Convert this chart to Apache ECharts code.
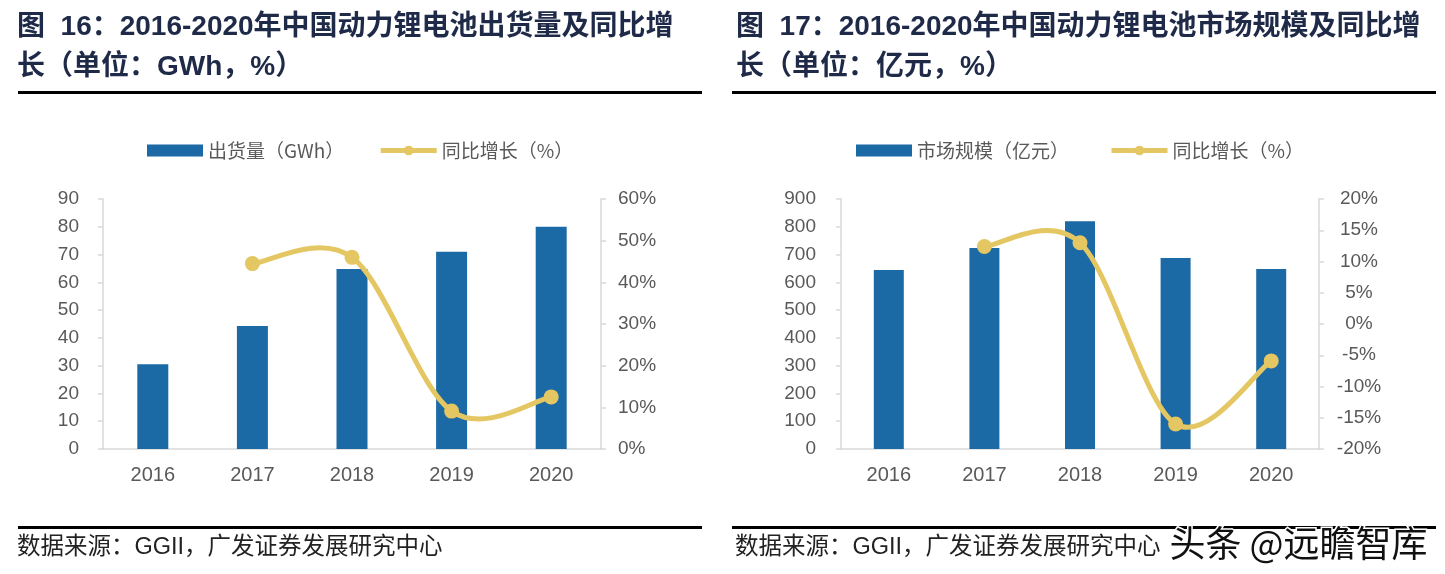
<!DOCTYPE html>
<html><head><meta charset="utf-8">
<script src="https://cdn.jsdelivr.net/npm/echarts@6/dist/echarts.min.js"></script>
<style>html,body{margin:0;padding:0;background:#fff}#c{width:1445px;height:574px}</style>
</head><body><div id="c"></div>
<script>
const years = ['2016','2017','2018','2019','2020'];
const shipment = [30.5, 44.3, 64.8, 71.0, 80.0];
const shipmentGrowth = [null, 44.5, 46.0, 9.1, 12.5];
const marketSize = [644, 724, 820, 688, 648];
const marketGrowth = [null, 12.4, 13.0, -16.0, -5.9];
const leftTicks1 = {min:0, max:90, interval:10};
const rightTicks1 = {min:0, max:60, interval:10};
const leftTicks2 = {min:0, max:900, interval:100};
const rightTicks2 = {min:-20, max:20, interval:5};
const title1 = ['图  16：2016-2020年中国动力锂电池出货量及同比增', '长（单位：GWh，%）'];
const title2 = ['图  17：2016-2020年中国动力锂电池市场规模及同比增', '长（单位：亿元，%）'];
const source = '数据来源：GGII，广发证券发展研究中心';
const names1 = ['出货量（GWh）', '同比增长（%）'];
const names2 = ['市场规模（亿元）', '同比增长（%） '];

const BAR = '#1B6AA5', LINE = '#E4C762', AX = '#D9D9D9', LBL = '#595959';
const FONT = '"Liberation Sans", Arial, "Noto Sans CJK SC", sans-serif';
const chart = echarts.init(document.getElementById('c'));

function yAx(grid, t, pos, fmt, margin, align) {
  const lab = {color:LBL, fontSize:19, fontFamily:FONT, margin:margin, formatter:fmt};
  if (align) lab.align = align;
  return {type:'value', gridIndex:grid, position:pos, min:t.min, max:t.max, interval:t.interval,
    axisLine:{show:true, lineStyle:{color:AX, width:1.5}},
    axisTick:{show:true, length:5, lineStyle:{color:AX, width:1.5}},
    splitLine:{show:false}, axisLabel:lab};
}
function xAx(grid) {
  return {type:'category', gridIndex:grid, data:years, boundaryGap:true,
    axisLine:{lineStyle:{color:AX, width:1.5}},
    axisTick:{length:5, lineStyle:{color:AX, width:1.5}},
    axisLabel:{color:LBL, fontSize:20, fontFamily:FONT, margin:16}};
}
function titleEls(lines, x) {
  return lines.map((t,i)=>({type:'text', left:x, top:13+i*40,
    style:{text:t, fill:'#1E2A48', font:'bold 28px "Liberation Sans", Arial, "Noto Sans CJK SC", sans-serif'}}));
}
// Smooth (Catmull-Rom style) curve through the points, positioned with the axes' own scales
function smoothRender(values) {
  return function(params, api) {
    const i = params.dataIndex;
    if (i === 0 || values[i] == null || values[i-1] == null) return null;
    const P = k => api.coord([k, values[k]]);
    const p1 = P(i-1), p2 = P(i);
    const p0 = (i-2 >= 0 && values[i-2] != null) ? P(i-2) : p1;
    const p3 = (i+1 < values.length && values[i+1] != null) ? P(i+1) : p2;
    return {type:'bezierCurve', silent:true, shape:{
      x1:p1[0], y1:p1[1], x2:p2[0], y2:p2[1],
      cpx1:p1[0]+(p2[0]-p0[0])/6, cpy1:p1[1]+(p2[1]-p0[1])/6,
      cpx2:p2[0]-(p3[0]-p1[0])/6, cpy2:p2[1]-(p3[1]-p1[1])/6},
      style:{stroke:LINE, lineWidth:5, fill:null}};
  };
}
const legendText = {color:LBL, fontSize:19, fontFamily:'"Noto Sans CJK SC", sans-serif'};
const legLine = {lineStyle:{color:LINE, width:5, opacity:1}, itemStyle:{color:LINE}};

chart.setOption({
  animation:false,
  grid:[{left:103, top:199, width:498, height:250}, {left:841, top:199, width:478, height:250}],
  xAxis:[xAx(0), xAx(1)],
  yAxis:[
    yAx(0, leftTicks1, 'left', '{value}', 24),
    yAx(0, rightTicks1, 'right', '{value}%', 17),
    yAx(1, leftTicks2, 'left', '{value}', 25),
    yAx(1, rightTicks2, 'right', '{value}%', 40, 'center')
  ],
  legend:[
    {left:147, top:141, padding:0, itemGap:34, textStyle:legendText, itemWidth:56, itemHeight:12, data:[
      {name:names1[0], icon:'rect', itemStyle:{color:BAR}},
      Object.assign({name:names1[1]}, legLine)]},
    {left:856, top:141, padding:0, itemGap:40, textStyle:legendText, itemWidth:56, itemHeight:12, data:[
      {name:names2[0], icon:'rect', itemStyle:{color:BAR}},
      Object.assign({name:names2[1]}, legLine)]}
  ],
  series:[
    {name:names1[0], type:'bar', xAxisIndex:0, yAxisIndex:0, data:shipment, barWidth:31, itemStyle:{color:BAR}},
    {type:'custom', xAxisIndex:0, yAxisIndex:1, renderItem:smoothRender(shipmentGrowth),
      data:shipmentGrowth.map((v,i)=>[i, v == null ? 0 : v]), encode:{x:0, y:1}, silent:true, z:3},
    {name:names1[1], type:'line', xAxisIndex:0, yAxisIndex:1, data:shipmentGrowth,
      symbol:'circle', symbolSize:15, lineStyle:{opacity:0}, itemStyle:{color:LINE}, z:4},
    {name:names2[0], type:'bar', xAxisIndex:1, yAxisIndex:2, data:marketSize, barWidth:30, itemStyle:{color:BAR}},
    {type:'custom', xAxisIndex:1, yAxisIndex:3, renderItem:smoothRender(marketGrowth),
      data:marketGrowth.map((v,i)=>[i, v == null ? 0 : v]), encode:{x:0, y:1}, silent:true, z:3},
    {name:names2[1], type:'line', xAxisIndex:1, yAxisIndex:3, data:marketGrowth,
      symbol:'circle', symbolSize:15, lineStyle:{opacity:0}, itemStyle:{color:LINE}, z:4}
  ],
  graphic:[
    ...titleEls(title1, 17),
    ...titleEls(title2, 736),
    {type:'rect', shape:{x:18, y:91, width:684, height:3}, style:{fill:'#000'}},
    {type:'rect', shape:{x:732, y:91, width:704, height:3}, style:{fill:'#000'}},
    {type:'rect', shape:{x:18, y:526, width:684, height:3}, style:{fill:'#000'}},
    {type:'rect', shape:{x:732, y:526, width:704, height:3}, style:{fill:'#000'}},
    {type:'text', left:17, top:536, style:{text:source, fill:'#222', font:'23.5px "Liberation Sans", Arial, "Noto Sans CJK SC", sans-serif'}},
    {type:'text', left:735, top:536, style:{text:source, fill:'#222', font:'23.5px "Liberation Sans", Arial, "Noto Sans CJK SC", sans-serif'}},
    {type:'text', left:1168, top:524, z:100, style:{text:'头条 @远瞻智库', fill:'#111', stroke:'#fff', lineWidth:3,
      font:'36px "Noto Sans CJK SC", sans-serif'}}
  ]
});
</script></body></html>
